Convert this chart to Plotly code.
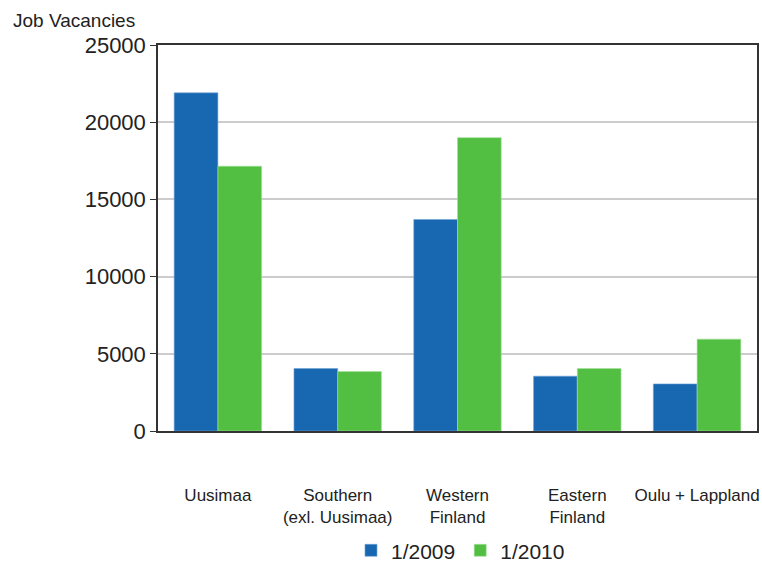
import plotly.graph_objects as go

categories = ["Uusimaa", "Southern<br>(exl. Uusimaa)", "Western<br>Finland", "Eastern<br>Finland", "Oulu + Lappland"]
series_names = ["1/2009", "1/2010"]
values_2009 = [21900, 4050, 13700, 3550, 3050]
values_2010 = [17150, 3850, 19000, 4050, 5950]
y_ticks = [0, 5000, 10000, 15000, 20000, 25000]

blue = "#1868b1"
green = "#52bf42"
font_family = "Liberation Sans, Arial, sans-serif"
text_color = "#222222"

fig = go.Figure()
fig.add_trace(go.Bar(name=series_names[0], x=categories, y=values_2009,
                     marker=dict(color=blue, line=dict(color="#6fa3d6", width=0.6))))
fig.add_trace(go.Bar(name=series_names[1], x=categories, y=values_2010,
                     marker=dict(color=green, line=dict(color="#a6e09c", width=0.6))))

fig.update_layout(
    width=762, height=561,
    margin=dict(l=158, r=5, t=45, b=130, autoexpand=False),
    paper_bgcolor="white", plot_bgcolor="white",
    barmode="group", bargap=0.27, bargroupgap=0,
    font=dict(family=font_family, color=text_color),
    showlegend=True,
    legend=dict(orientation="h", x=0.505, xanchor="center", y=-0.31, yanchor="middle",
                font=dict(size=21, family=font_family, color=text_color),
                itemwidth=30, traceorder="normal"),
    annotations=[dict(text="Job Vacancies", xref="paper", yref="paper",
                      x=-0.245, xanchor="left", y=1.032, yanchor="bottom",
                      showarrow=False, font=dict(size=19, family=font_family, color=text_color))],
)
fig.update_yaxes(range=[0, 25000], tickvals=y_ticks, ticktext=[str(v) for v in y_ticks],
                 showgrid=True, gridcolor="#cccccc", gridwidth=1.5,
                 showline=True, linecolor="#333333", linewidth=1.5, mirror=True,
                 ticks="outside", ticklen=6, tickcolor="#333333",
                 tickfont=dict(size=22, family=font_family, color=text_color),
                 zeroline=False, automargin=False)
fig.update_xaxes(showline=True, linecolor="#333333", linewidth=1.5, mirror=True,
                 ticks="", ticklabelstandoff=48, automargin=False,
                 tickfont=dict(size=17, family=font_family, color=text_color))

fig.write_html("out.html", config={"displayModeBar": False},
               post_script="document.body.style.margin='0';document.body.style.overflow='hidden';")
